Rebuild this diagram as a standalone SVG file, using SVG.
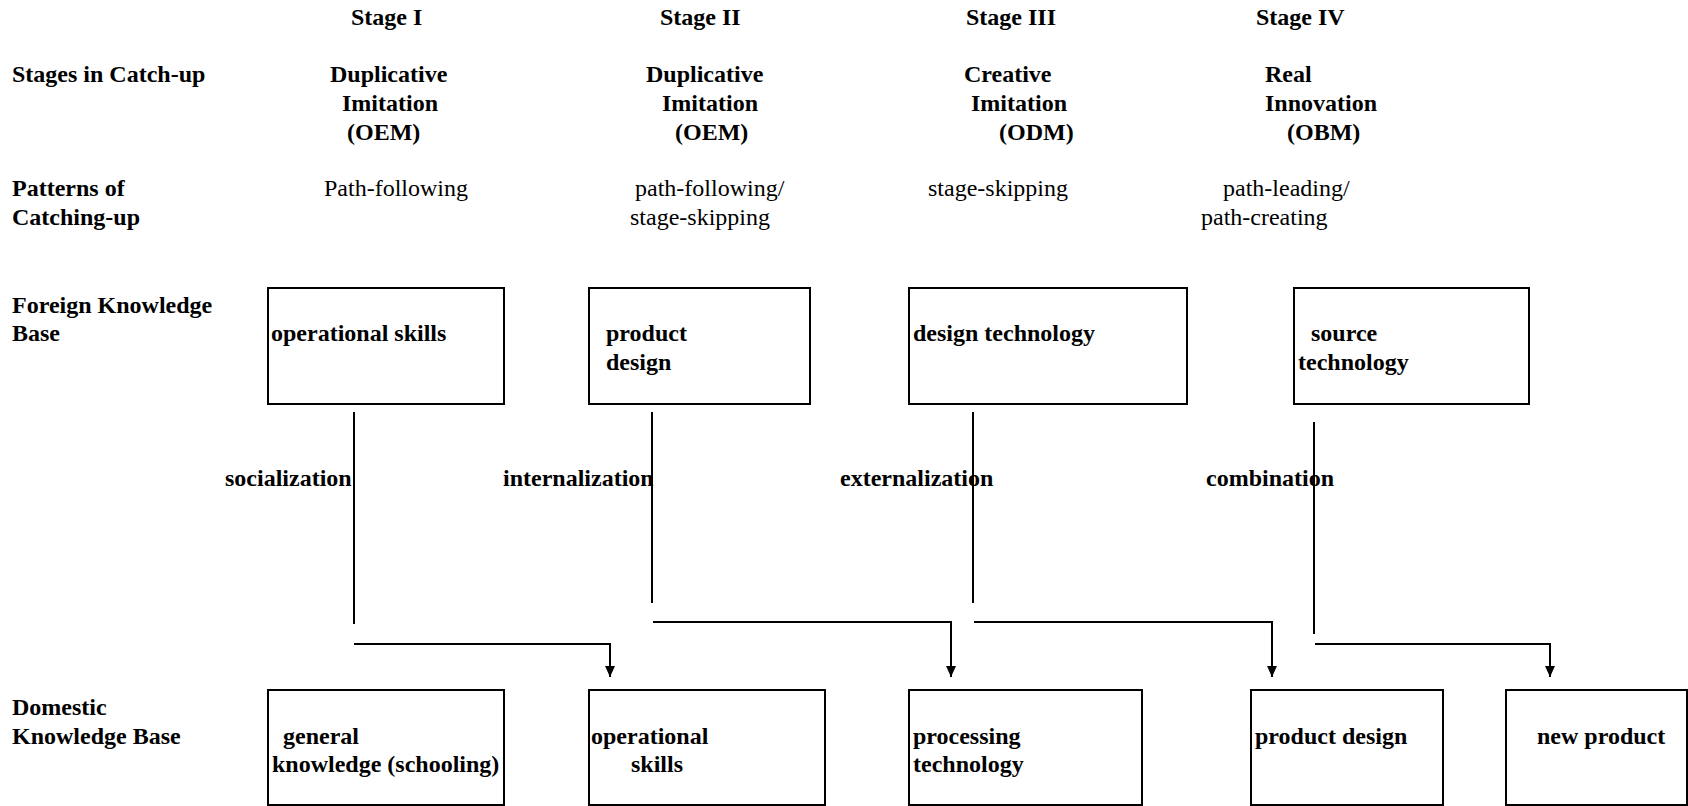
<svg xmlns="http://www.w3.org/2000/svg" width="1688" height="806" viewBox="0 0 1688 806">
<style>
text{font-family:"Liberation Serif","Times New Roman",serif;font-size:24px;fill:#000;font-weight:normal}
text.b{font-weight:bold}
.box{fill:#fff;stroke:#000;stroke-width:2}
.ln{fill:none;stroke:#000;stroke-width:2}
</style>
<defs>
<marker id="ah" markerUnits="userSpaceOnUse" markerWidth="10" markerHeight="12" refX="5" refY="11" orient="0" viewBox="0 0 10 12">
<path d="M0,0 L10,0 L5,11 Z" fill="#000"/>
</marker>
</defs>
<rect width="1688" height="806" fill="#fff"/>
<g id="headers">
<text class="b" x="351" y="25">Stage I</text>
<text class="b" x="660" y="25">Stage II</text>
<text class="b" x="966" y="25">Stage III</text>
<text class="b" x="1256" y="25">Stage IV</text>
<text class="b" x="12" y="82">Stages in Catch-up</text>
<text class="b" x="330" y="82">Duplicative</text>
<text class="b" x="342" y="111">Imitation</text>
<text class="b" x="347" y="140">(OEM)</text>
<text class="b" x="646" y="82">Duplicative</text>
<text class="b" x="662" y="111">Imitation</text>
<text class="b" x="675" y="140">(OEM)</text>
<text class="b" x="964" y="82">Creative</text>
<text class="b" x="971" y="111">Imitation</text>
<text class="b" x="999" y="140">(ODM)</text>
<text class="b" x="1265" y="82">Real</text>
<text class="b" x="1265" y="111">Innovation</text>
<text class="b" x="1287" y="140">(OBM)</text>
<text class="b" x="12" y="196">Patterns of</text>
<text class="b" x="12" y="225">Catching-up</text>
<text x="324" y="196">Path-following</text>
<text x="635" y="196">path-following/</text>
<text x="630" y="225">stage-skipping</text>
<text x="928" y="196">stage-skipping</text>
<text x="1223" y="196">path-leading/</text>
<text x="1201" y="225">path-creating</text>
<text class="b" x="12" y="313">Foreign Knowledge</text>
<text class="b" x="12" y="341">Base</text>
<text class="b" x="12" y="715">Domestic</text>
<text class="b" x="12" y="744">Knowledge Base</text>
</g>
<g id="f1"><rect class="box" x="268" y="288" width="236" height="116"/><text class="b" x="271" y="341">operational skills</text></g>
<g id="f2"><rect class="box" x="589" y="288" width="221" height="116"/><text class="b" x="606" y="341">product</text><text class="b" x="606" y="370">design</text></g>
<g id="f3"><rect class="box" x="909" y="288" width="278" height="116"/><text class="b" x="913" y="341">design technology</text></g>
<g id="f4"><rect class="box" x="1294" y="288" width="235" height="116"/><text class="b" x="1311" y="341">source</text><text class="b" x="1298" y="370">technology</text></g>
<g id="d1"><rect class="box" x="268" y="690" width="236" height="115"/><text class="b" x="283" y="744">general</text><text class="b" x="272" y="772">knowledge (schooling)</text></g>
<g id="d2"><rect class="box" x="589" y="690" width="236" height="115"/><text class="b" x="591" y="744">operational</text><text class="b" x="631" y="772">skills</text></g>
<g id="d3"><rect class="box" x="909" y="690" width="233" height="115"/><text class="b" x="913" y="744">processing</text><text class="b" x="913" y="772">technology</text></g>
<g id="d4"><rect class="box" x="1251" y="690" width="192" height="115"/><text class="b" x="1255" y="744">product design</text></g>
<g id="d5"><rect class="box" x="1506" y="690" width="181" height="115"/><text class="b" x="1537" y="744">new product</text></g>
<g id="connectors">
<line class="ln" x1="354" y1="412" x2="354" y2="624"/>
<line class="ln" x1="652" y1="412" x2="652" y2="603"/>
<line class="ln" x1="973" y1="412" x2="973" y2="603"/>
<line class="ln" x1="1314" y1="422" x2="1314" y2="634"/>
<path class="ln" d="M354,644 H610 V677" marker-end="url(#ah)"/>
<path class="ln" d="M653,622 H951 V677" marker-end="url(#ah)"/>
<path class="ln" d="M974,622 H1272 V677" marker-end="url(#ah)"/>
<path class="ln" d="M1315,644 H1550 V677" marker-end="url(#ah)"/>
<text class="b" x="225" y="486">socialization</text>
<text class="b" x="503" y="486">internalization</text>
<text class="b" x="840" y="486">externalization</text>
<text class="b" x="1206" y="486">combination</text>
</g>
</svg>
